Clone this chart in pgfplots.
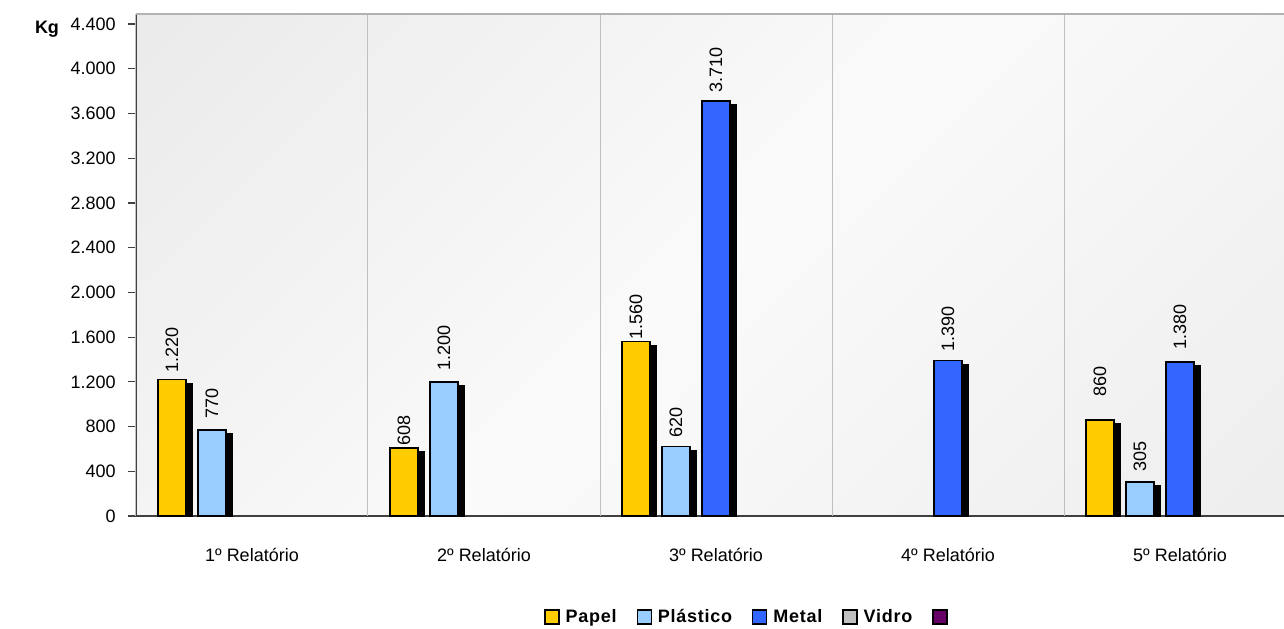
\documentclass[border=0pt]{standalone}
\usepackage{fontspec}
\setmainfont{Liberation Sans}
\usepackage{pgfplots}
\usepackage{pgfplotstable}
\pgfplotsset{compat=1.18}
\usetikzlibrary{shadows}
\definecolor{papel}{HTML}{FFCC00}
\definecolor{plastico}{HTML}{99CCFF}
\definecolor{metal}{HTML}{3366FF}
\definecolor{vidro}{HTML}{C0C0C0}
\definecolor{outro}{HTML}{660066}
\definecolor{bgA}{HTML}{E4E4E4}
\definecolor{bgB}{HTML}{FAFAFA}
\definecolor{bgC}{HTML}{E8E8E8}
\pgfdeclarehorizontalshading{bgdiag}{100bp}{color(0bp)=(bgA); color(50bp)=(bgB); color(100bp)=(bgC)}

\pgfplotstableread{
x y off
0 1220 3.5
1 608 1
2 1560 1
4 860 11.5
}\papel
\pgfplotstableread{
x y off
0 770 5.5
1 1200 5.5
2 620 4.5
4 305 5
}\plastico
\pgfplotstableread{
x y off
2 3710 4
3 1390 4.5
4 1380 6
}\metal

\newcommand{\fs}{\fontsize{9}{11}\selectfont}

\begin{document}
\begin{tikzpicture}
\useasboundingbox (-68pt,-56pt) rectangle (574pt,258pt);
\begin{axis}[
  at={(0,0)}, anchor=south west,
  scale only axis, width=580pt, height=251pt,
  xmin=-0.5, xmax=4.5, ymin=0, ymax=4490,
  axis lines*=left,
  axis line style={draw=black!75, line width=0.6pt},
  axis background/.style={shade, shading=bgdiag, shading angle=-45},
  ytick={0,400,...,4400},
  xtick={0,1,2,3,4},
  xticklabels={1º Relatório,2º Relatório,3º Relatório,4º Relatório,5º Relatório},
  xtick style={draw=none},
  extra x ticks={-0.5,0.5,1.5,2.5,3.5,4.5},
  extra x tick labels={},
  extra x tick style={grid=major, major grid style={draw=black!25, line width=0.5pt}, tick style={draw=black!75, line width=0.6pt}},
  tick align=outside, major tick length=4pt,
  ytick style={draw=black!75, line width=0.6pt},
  tick label style={font=\fs},
  yticklabel style={anchor=east, inner sep=0pt, xshift=-6pt},
  xticklabel style={anchor=base, inner sep=0pt, yshift=-18.5pt},
  /pgf/number format/.cd, 1000 sep={.}, assume math mode=true, /pgfplots/.cd,
  legend columns=5,
  legend style={at={(0.531,-0.2012)}, anchor=center, draw=none, fill=none,
    font=\bfseries\fs\addfontfeatures{LetterSpace=4}, /tikz/every even column/.append style={column sep=7pt},
    nodes={inner sep=3pt}},
  legend image code/.code={\draw[#1, line width=0.7pt] (0pt,-3.5pt) rectangle (7pt,3.5pt);},
]
\draw[black!30, line width=0.6pt] (rel axis cs:0,1) -- (rel axis cs:1,1);
% bars with shadow
\pgfplotsset{barsty/.style={forget plot, ybar, bar width=14pt, draw=black, line width=0.8pt,
  drop shadow={shadow xshift=3pt, shadow yshift=-2pt, fill=black, opacity=1, shadow scale=1}}}
\addplot[barsty, fill=papel, bar shift=-40pt] table[x=x,y=y] {\papel};
\addplot[barsty, fill=plastico, bar shift=-20pt] table[x=x,y=y] {\plastico};
\addplot[barsty, fill=metal, bar shift=0pt] table[x=x,y=y] {\metal};
% labels
\pgfplotsset{lbl/.style={forget plot, ybar, bar width=14pt, bar shift=0pt, draw=none, fill=none,
  nodes near coords, visualization depends on={\thisrow{off} \as \off},
  every node near coord/.append style={xshift=#1, yshift=\off pt, rotate=90, anchor=west, inner sep=0pt, font=\fs, text=black}}}
\addplot[lbl=-40pt] table[x=x,y=y] {\papel};
\addplot[lbl=-20pt] table[x=x,y=y] {\plastico};
\addplot[lbl=0pt] table[x=x,y=y] {\metal};
\addlegendimage{fill=papel, draw=black}\addlegendentry{Papel}
\addlegendimage{fill=plastico, draw=black}\addlegendentry{Plástico}
\addlegendimage{fill=metal, draw=black}\addlegendentry{Metal}
\addlegendimage{fill=vidro, draw=black}\addlegendentry{Vidro}
\addlegendimage{fill=outro, draw=black}\addlegendentry{}
\end{axis}
\node[font=\bfseries\fs] at (-44.5pt,243.5pt) {Kg};
\end{tikzpicture}
\end{document}
